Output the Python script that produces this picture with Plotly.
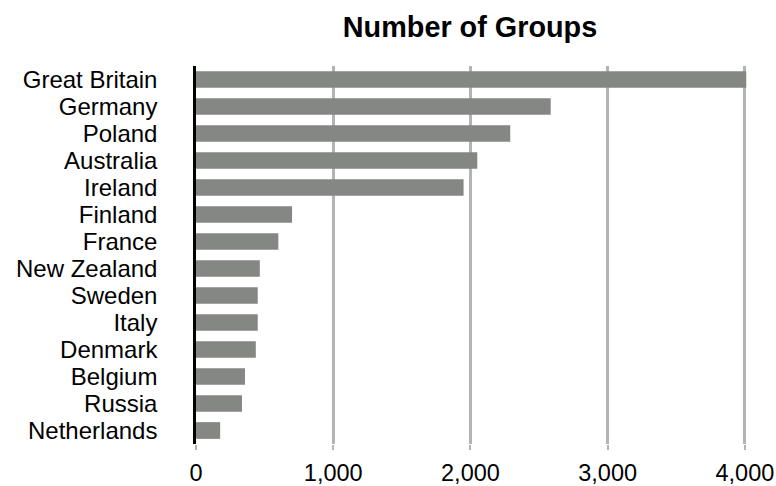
import plotly.graph_objects as go

countries = ["Great Britain", "Germany", "Poland", "Australia", "Ireland", "Finland",
             "France", "New Zealand", "Sweden", "Italy", "Denmark", "Belgium",
             "Russia", "Netherlands"]
groups = [4010, 2585, 2290, 2050, 1950, 700, 600, 465, 450, 450, 436, 357, 335, 176]
tick_vals = [0, 1000, 2000, 3000, 4000]
tick_text = ["0", "1,000", "2,000", "3,000", "4,000"]

FONT = "Liberation Sans, Arial, Helvetica, sans-serif"

fig = go.Figure(go.Bar(
    x=groups, y=countries, orientation="h",
    marker=dict(color="#858785", line=dict(width=0)),
    hoverinfo="x+y",
))

fig.update_layout(
    width=776, height=486,
    margin=dict(l=196, r=27, t=66, b=42, autoexpand=False),
    paper_bgcolor="white", plot_bgcolor="white",
    bargap=0.38,
    showlegend=False,
    title=dict(text="<b>Number of Groups</b>", x=(196 + 744) / 2 / 776, xanchor="center",
               y=1 - 27 / 486, yanchor="middle",
               font=dict(family=FONT, size=28.8, color="black")),
    font=dict(family=FONT, color="black"),
)

fig.update_xaxes(
    range=[0, 4030], tickvals=tick_vals, ticktext=tick_text,
    showgrid=True, gridcolor="#b3b3b3", gridwidth=2.5,
    zeroline=False, showline=False, automargin=False,
    ticks="outside", ticklen=5, tickwidth=2, tickcolor="#b3b3b3",
    ticklabelstandoff=3,
    tickfont=dict(family=FONT, size=23.5, color="black"),
)
fig.update_yaxes(
    autorange="reversed", showgrid=False, zeroline=False,
    tickmode="array", tickvals=countries, ticktext=countries,
    showline=True, linecolor="black", linewidth=2.5, automargin=False,
    ticks="", ticklabelstandoff=31,
    tickfont=dict(family=FONT, size=24, color="black"),
)

fig.write_html("out.html")
